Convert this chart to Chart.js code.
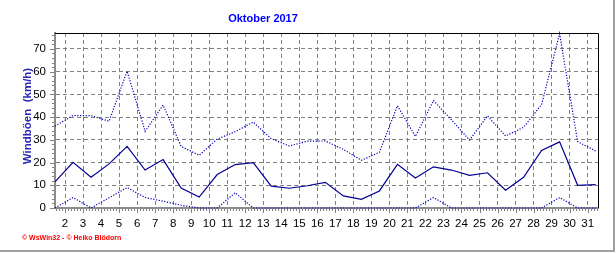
<!DOCTYPE html>
<html><head><meta charset="utf-8">
<script src="https://cdn.jsdelivr.net/npm/chart.js@4.4.1/dist/chart.umd.min.js"></script>
<style>html,body{margin:0;padding:0;background:#fff;overflow:hidden}canvas{display:block}</style>
</head><body>
<canvas id="c" width="616" height="253"></canvas>
<script>
// ---- data ----
const chartTitle = 'Oktober 2017';
const yAxisTitle = 'Windböen  (km/h)';
const footerText = '© WsWin32 - © Heiko Blödorn';
const days = [1,2,3,4,5,6,7,8,9,10,11,12,13,14,15,16,17,18,19,20,21,22,23,24,25,26,27,28,29,30,31];
const tickLabels = ['2','3','4','5','6','7','8','9','10','11','12','13','14','15','16','17','18','19','20','21','22','23','24','25','26','27','28','29','30','31'];
const yTickValues = [0,10,20,30,40,50,60,70];
const maxGust  = [36,40.7,40.6,38.2,60.2,33.7,45.3,27.1,23.2,30.3,33.6,37.8,30.5,27.3,29.4,29.5,25.8,21,24.5,45,31.5,47.3,38.8,29.9,40.5,31.7,35.5,45.5,76.7,29.2,25.1];
const meanGust = [11.5,20.1,13.5,19.4,27.1,16.7,21.3,8.8,4.8,14.7,19.1,20,9.6,8.7,9.8,11.3,5.3,3.8,7.5,19.2,13.2,18.1,16.7,14.4,15.5,7.8,13.5,25.3,29.1,10,10.3];
const minGust  = [0,4.6,0,4.5,9,4.6,3,1.2,0,0,6.7,0,0,0,0,0,0,0,0,0,0,4.6,0,0,0,0,0,0,4.6,0,0];

// ---- layout constants ----
const GRID_SHIFT = 0.445;   // day grid line sits this far left of the day's point
const X_MIN = 1, X_MAX = 31.13, Y_MAX = 77;

const pts = arr => days.map((d,i)=>({x:d, y:arr[i]}));

const decor = {
  id:'decor',
  afterDraw(chart){
    const {ctx, chartArea:a, scales:{x,y}} = chart;
    ctx.save();
    // top/right frame
    ctx.strokeStyle='#000'; ctx.lineWidth=1;
    ctx.beginPath();
    ctx.moveTo(a.left, a.top+0.5); ctx.lineTo(a.right+0.5, a.top+0.5);
    ctx.lineTo(a.right+0.5, a.bottom); ctx.stroke();
    // y ticks
    ctx.strokeStyle='#808080';
    ctx.beginPath();
    for(let v=0; v<=Y_MAX; v+=2){
      const py=Math.round(y.getPixelForValue(v))+0.5;
      const len = (v%10===0)?4:2;
      ctx.moveTo(a.left-1-len, py); ctx.lineTo(a.left-1, py);
    }
    // x ticks
    for(let k=1; k<=32; k++){
      for(let s=0; s<6; s++){
        const v = k - GRID_SHIFT + s/6;
        if(v < X_MIN || v > X_MAX) continue;
        const px=Math.round(x.getPixelForValue(v))+0.5;
        const len = s===0?4:2;
        ctx.moveTo(px, a.bottom+1); ctx.lineTo(px, a.bottom+1+len);
      }
    }
    ctx.stroke();
    // title
    ctx.fillStyle='#0000ff';
    ctx.font='bold 11px "Liberation Sans", Arial, sans-serif';
    ctx.textAlign='center'; ctx.textBaseline='middle';
    ctx.fillText(chartTitle, 263, 19);
    // y title
    ctx.save();
    ctx.translate(27.5, 116); ctx.rotate(-Math.PI/2);
    ctx.fillStyle='#2828b4';
    ctx.font='bold 11.5px "Liberation Sans", Arial, sans-serif';
    ctx.fillText(yAxisTitle, 0, 0);
    ctx.restore();
    // footer
    ctx.fillStyle='#ff0000';
    ctx.font='bold 7px "Liberation Sans", Arial, sans-serif';
    ctx.textAlign='left';
    ctx.fillText(footerText, 22, 238.5);
    // outer panel lines
    ctx.strokeStyle='#a0a0a0'; ctx.lineWidth=2;
    ctx.beginPath();
    ctx.moveTo(0, 251); ctx.lineTo(614, 251); ctx.lineTo(614, 0);
    ctx.stroke();
    ctx.restore();
  }
};

new Chart(document.getElementById('c'), {
  type:'line',
  data:{ datasets:[
    {label:'max', data:pts(maxGust), borderColor:'#0000b4', borderWidth:1.2, borderDash:[1.2,1.6], pointRadius:0, tension:0, clip:false},
    {label:'mean', data:pts(meanGust), borderColor:'#000090', borderWidth:1.2, pointRadius:0, tension:0, clip:false},
    {label:'min', data:pts(minGust), borderColor:'#0000b4', borderWidth:1.2, borderDash:[1.2,1.6], pointRadius:0, tension:0, clip:false}
  ]},
  options:{
    responsive:false, animation:false, devicePixelRatio:1,
    layout:{padding:{left:0, right:18, top:33, bottom:0}},
    plugins:{legend:{display:false}, tooltip:{enabled:false}, title:{display:false}},
    scales:{
      x:{
        type:'linear', min:X_MIN, max:X_MAX,
        afterFit(s){ s.height = 45; },
        afterBuildTicks(s){ s.ticks = tickLabels.map(l=>({value:Number(l)-GRID_SHIFT})); },
        ticks:{ autoSkip:false, maxRotation:0, padding:9, color:'#000',
          font:{family:'"Liberation Sans", Arial, sans-serif', size:11.5},
          callback:(v,i)=>tickLabels[i] },
        grid:{ color:'#808080', lineWidth:1, drawTicks:false },
        border:{ display:true, color:'#8c8c8c', width:2, dash:[4,3] }
      },
      y:{
        min:0, max:Y_MAX,
        afterFit(s){ s.width = 55; },
        afterBuildTicks(s){ s.ticks = yTickValues.map(v=>({value:v})); },
        ticks:{ padding:9, color:'#000',
          font:{family:'"Liberation Sans", Arial, sans-serif', size:11.5} },
        grid:{ color:'#808080', lineWidth:1, drawTicks:false },
        border:{ display:true, color:'#8c8c8c', width:2, dash:[4,3] }
      }
    }
  },
  plugins:[decor]
});
</script>
</body></html>
